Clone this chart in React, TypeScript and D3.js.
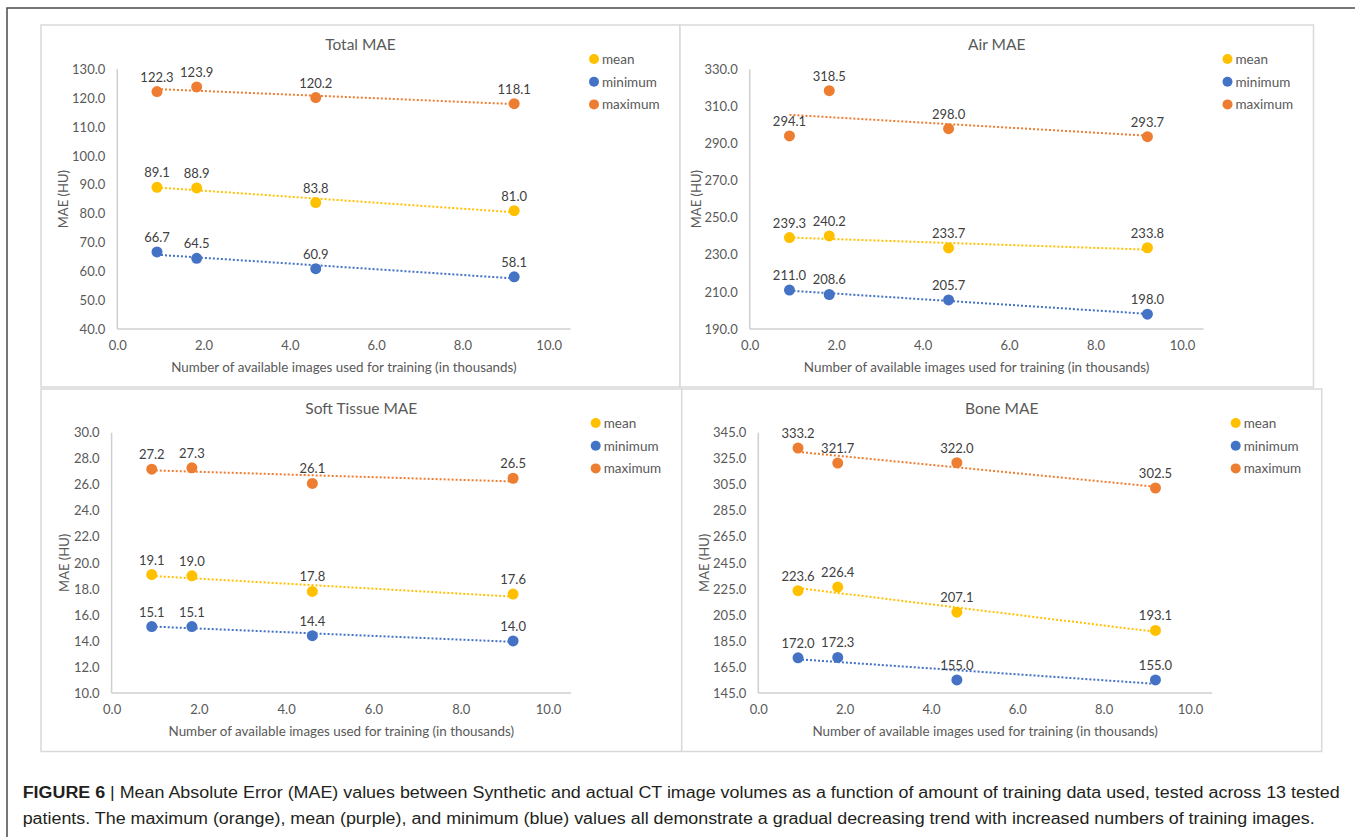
import * as d3 from 'd3';
import React, { useEffect, useRef } from 'react';

// training set sizes (thousands of images)
const xValues = [0.92, 1.84, 4.6, 9.2];
const xTicks = [0, 2, 4, 6, 8, 10];
const seriesNames = ['mean', 'minimum', 'maximum'];

const totalMean = [89.1, 88.9, 83.8, 81.0];
const totalMin = [66.7, 64.5, 60.9, 58.1];
const totalMax = [122.3, 123.9, 120.2, 118.1];
const totalTicks = [40, 50, 60, 70, 80, 90, 100, 110, 120, 130];

const airMean = [239.3, 240.2, 233.7, 233.8];
const airMin = [211.0, 208.6, 205.7, 198.0];
const airMax = [294.1, 318.5, 298.0, 293.7];
const airTicks = [190, 210, 230, 250, 270, 290, 310, 330];

const softMean = [19.1, 19.0, 17.8, 17.6];
const softMin = [15.1, 15.1, 14.4, 14.0];
const softMax = [27.2, 27.3, 26.1, 26.5];
const softTicks = [10, 12, 14, 16, 18, 20, 22, 24, 26, 28, 30];

const boneMean = [223.6, 226.4, 207.1, 193.1];
const boneMin = [172.0, 172.3, 155.0, 155.0];
const boneMax = [333.2, 321.7, 322.0, 302.5];
const boneTicks = [145, 165, 185, 205, 225, 245, 265, 285, 305, 325, 345];

const colors = ['#ffc000', '#4472c4', '#ed7d31'];

const panels = [
  { title: 'Total MAE', box: [41, 25, 680, 387], x0: 117.3, x10: 548.7, axisEnd: 570.5, yTop: 69.3, yBot: 329, ticks: totalTicks, series: [totalMean, totalMin, totalMax], yTitleX: 62.5 },
  { title: 'Air MAE', box: [680, 25, 1313.5, 387], x0: 749.7, x10: 1182, axisEnd: 1203.5, yTop: 69.3, yBot: 329, ticks: airTicks, series: [airMean, airMin, airMax], yTitleX: 696 },
  { title: 'Soft Tissue MAE', box: [41, 389, 681.7, 751.5], x0: 111.6, x10: 548, axisEnd: 571, yTop: 432.7, yBot: 693, ticks: softTicks, series: [softMean, softMin, softMax], yTitleX: 64 },
  { title: 'Bone MAE', box: [681.7, 389, 1321.7, 751.5], x0: 758.3, x10: 1190, axisEnd: 1212, yTop: 432.7, yBot: 693, ticks: boneTicks, series: [boneMean, boneMin, boneMax], yTitleX: 703.7 },
];

const font = 'Lato, "Open Sans", sans-serif';
const fmt = d3.format('.1f');

// least squares trendline like excel's linear trendline
function trend(xs: number[], ys: number[]) {
  const mx = d3.mean(xs) as number;
  const my = d3.mean(ys) as number;
  const sxy = d3.sum(xs, (x, i) => (x - mx) * (ys[i] - my));
  const sxx = d3.sum(xs, (x) => (x - mx) * (x - mx));
  const b = sxy / sxx;
  const a = my - b * mx;
  return [xs[0], xs[xs.length - 1]].map((x) => [x, a + b * x] as [number, number]);
}

export default function App() {
  const ref = useRef<SVGSVGElement>(null);

  useEffect(() => {
    const svg = d3.select(ref.current);
    svg.selectAll('*').remove();

    svg.append('rect').attr('width', 1355).attr('height', 837).attr('fill', '#fff');

    // outer frame
    svg.append('path')
      .attr('d', 'M7,837V8H1360')
      .attr('fill', 'none')
      .attr('stroke', '#4a4a4a')
      .attr('stroke-width', 1.5);

    panels.forEach((p) => {
      const [l, t, r, b] = p.box;
      const g = svg.append('g');
      g.append('rect')
        .attr('x', l).attr('y', t)
        .attr('width', r - l).attr('height', b - t)
        .attr('fill', '#fff')
        .attr('stroke', '#d9d9d9')
        .attr('stroke-width', 1.5);

      const x = d3.scaleLinear().domain([0, 10]).range([p.x0, p.x10]);
      const y = d3.scaleLinear()
        .domain([p.ticks[0], p.ticks[p.ticks.length - 1]])
        .range([p.yBot, p.yTop]);

      // axis lines
      g.append('line')
        .attr('x1', p.x0).attr('x2', p.x0)
        .attr('y1', p.yTop).attr('y2', p.yBot)
        .attr('stroke', '#cfcfcf').attr('stroke-width', 1.5);
      g.append('line')
        .attr('x1', p.x0).attr('x2', p.axisEnd)
        .attr('y1', p.yBot).attr('y2', p.yBot)
        .attr('stroke', '#cfcfcf').attr('stroke-width', 1.5);

      const yAxis = g.append('g')
        .attr('transform', `translate(${p.x0},0)`)
        .call(d3.axisLeft(y).tickValues(p.ticks).tickSize(0).tickPadding(12).tickFormat((d) => fmt(d as number)));
      const xAxis = g.append('g')
        .attr('transform', `translate(0,${p.yBot})`)
        .call(d3.axisBottom(x).tickValues(xTicks).tickSize(0).tickPadding(12).tickFormat((d) => fmt(d as number)));
      [yAxis, xAxis].forEach((a) => {
        a.select('.domain').remove();
        a.selectAll('text')
          .attr('fill', '#595959')
          .style('font-family', font)
          .style('font-size', '13px');
      });

      g.append('text')
        .attr('x', (l + r) / 2).attr('y', t + 19)
        .attr('text-anchor', 'middle')
        .attr('dominant-baseline', 'central')
        .attr('fill', '#595959')
        .style('font-family', font)
        .style('font-size', '15.5px')
        .text(p.title);

      g.append('text')
        .attr('x', (p.x0 + p.axisEnd) / 2).attr('y', p.yBot + 38)
        .attr('text-anchor', 'middle')
        .attr('dominant-baseline', 'central')
        .attr('fill', '#595959')
        .style('font-family', font)
        .style('font-size', '13.4px')
        .text('Number of available images used for training (in thousands)');

      g.append('text')
        .attr('transform', `translate(${p.yTitleX},${(p.yTop + p.yBot) / 2}) rotate(-90)`)
        .attr('text-anchor', 'middle')
        .attr('dominant-baseline', 'central')
        .attr('fill', '#595959')
        .style('font-family', font)
        .style('font-size', '13px')
        .text('MAE (HU)');

      const line = d3.line<[number, number]>().x((d) => x(d[0])).y((d) => y(d[1]));

      p.series.forEach((vals, si) => {
        g.append('path')
          .attr('d', line(trend(xValues, vals)))
          .attr('fill', 'none')
          .attr('stroke', colors[si])
          .attr('stroke-width', 2)
          .attr('stroke-dasharray', '2,2');
      });

      p.series.forEach((vals, si) => {
        const s = g.append('g');
        s.selectAll('circle')
          .data(vals)
          .join('circle')
          .attr('cx', (d, i) => x(xValues[i]))
          .attr('cy', (d) => y(d))
          .attr('r', 5.5)
          .attr('fill', colors[si]);
        s.selectAll('text')
          .data(vals)
          .join('text')
          .attr('x', (d, i) => x(xValues[i]))
          .attr('y', (d) => y(d) - 15)
          .attr('text-anchor', 'middle')
          .attr('dominant-baseline', 'central')
          .attr('fill', '#404040')
          .style('font-family', font)
          .style('font-size', '13px')
          .text((d) => fmt(d));
      });

      // legend
      const lg = g.append('g');
      seriesNames.forEach((name, i) => {
        const ly = t + 34 + i * 22.7;
        lg.append('circle')
          .attr('cx', r - 86).attr('cy', ly)
          .attr('r', 5)
          .attr('fill', colors[i]);
        lg.append('text')
          .attr('x', r - 78).attr('y', ly)
          .attr('dominant-baseline', 'central')
          .attr('fill', '#595959')
          .style('font-family', font)
          .style('font-size', '13.5px')
          .text(name);
      });
    });

    // caption
    const cap1 = svg.append('text')
      .attr('x', 22.7).attr('y', 798)
      .attr('textLength', 1317)
      .attr('lengthAdjust', 'spacingAndGlyphs')
      .attr('fill', '#231f20')
      .style('font-family', '"Liberation Sans", Arial, sans-serif')
      .style('font-size', '16px');
    cap1.append('tspan').style('font-weight', 'bold').text('FIGURE 6');
    cap1.append('tspan').text(' | Mean Absolute Error (MAE) values between Synthetic and actual CT image volumes as a function of amount of training data used, tested across 13 tested');

    svg.append('text')
      .attr('x', 22.7).attr('y', 824)
      .attr('textLength', 1292)
      .attr('lengthAdjust', 'spacingAndGlyphs')
      .attr('fill', '#231f20')
      .style('font-family', '"Liberation Sans", Arial, sans-serif')
      .style('font-size', '16px')
      .text('patients. The maximum (orange), mean (purple), and minimum (blue) values all demonstrate a gradual decreasing trend with increased numbers of training images.');
  }, []);

  return (
    <svg
      ref={ref}
      width={1355}
      height={837}
      viewBox="0 0 1355 837"
      style={{ position: 'absolute', left: 0, top: 0, display: 'block' }}
    />
  );
}
